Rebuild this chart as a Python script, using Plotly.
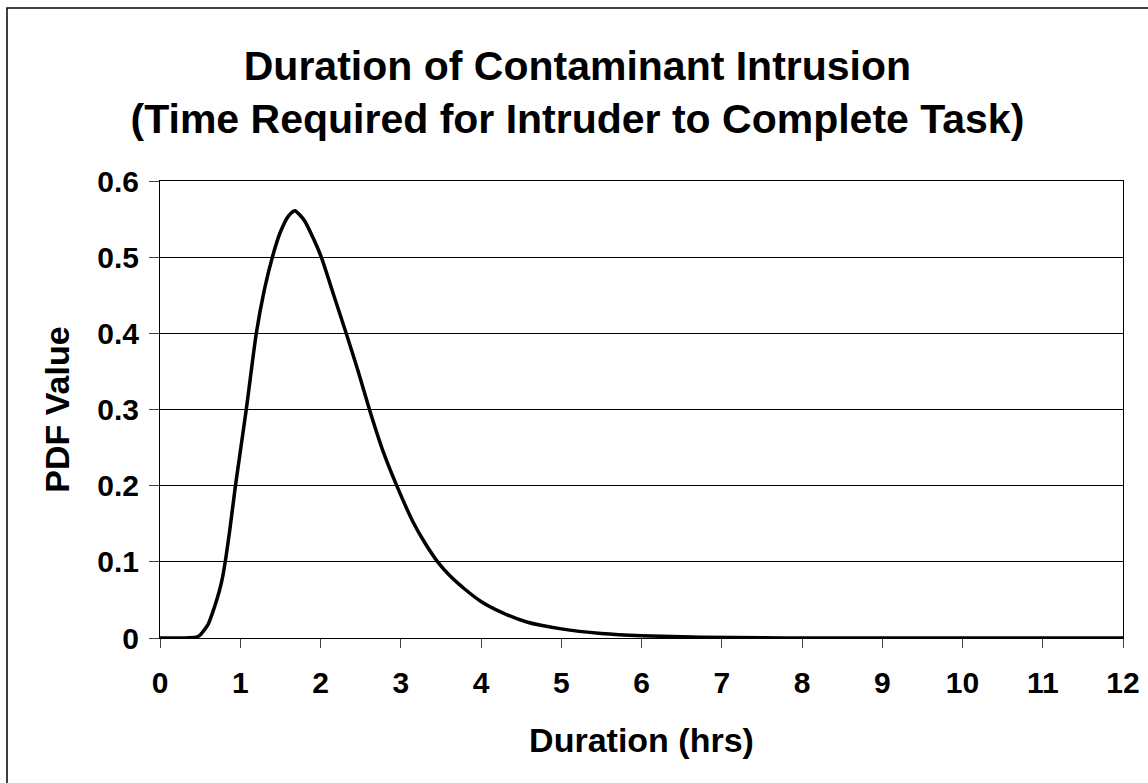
import plotly.graph_objects as go

# PDF curve
duration_hrs = [0, 0.3, 0.45, 0.5, 0.6, 0.68, 0.74, 0.78, 0.82, 0.87, 0.94, 1.075, 1.2, 1.3,
                1.4, 1.5, 1.6, 1.68, 1.8, 1.9, 2.01, 2.15, 2.32, 2.47, 2.61, 2.78,
                2.95, 3.15, 3.3, 3.46, 3.61, 3.8, 4.0, 4.25, 4.57, 5.0, 5.5, 6.0,
                6.75, 7.5, 8.0, 12.0]
pdf_value = [0, 0, 0.001, 0.004, 0.018, 0.041, 0.062, 0.080, 0.105, 0.142, 0.200, 0.300, 0.400, 0.457,
             0.500, 0.533, 0.554, 0.561, 0.548, 0.527, 0.500, 0.455, 0.400, 0.350, 0.300, 0.245,
             0.200, 0.153, 0.125, 0.100, 0.082, 0.064, 0.048, 0.034, 0.021, 0.012, 0.006, 0.003,
             0.001, 0.0003, 0, 0]

x_ticks = list(range(0, 13))
y_ticks = [0, 0.1, 0.2, 0.3, 0.4, 0.5, 0.6]
y_tick_labels = ["0", "0.1", "0.2", "0.3", "0.4", "0.5", "0.6"]

FONT = "Liberation Sans, Arial, sans-serif"

fig = go.Figure()
fig.add_trace(go.Scatter(
    x=duration_hrs, y=pdf_value,
    mode="lines",
    line=dict(color="black", width=3.5, shape="spline", smoothing=0.6),
    showlegend=False,
))

fig.update_layout(
    width=1148, height=783,
    margin=dict(l=160, r=25, t=181, b=145, autoexpand=False),
    paper_bgcolor="white", plot_bgcolor="white",
    font=dict(family=FONT, color="black"),
    title=dict(
        text="Duration of Contaminant Intrusion<br>(Time Required for Intruder to Complete Task)",
        font=dict(size=41, family=FONT, weight="bold", color="black"),
        x=0.503, xanchor="center", xref="container",
        y=0.898, yanchor="top", yref="container",
    ),
    xaxis=dict(
        range=[0, 12], tickvals=x_ticks,
        ticks="outside", ticklen=9, tickcolor="#444", tickwidth=1,
        ticklabelstandoff=9,
        showline=True, linecolor="black", linewidth=1, mirror=True,
        showgrid=False, zeroline=False, automargin=False,
        tickfont=dict(size=30, weight="bold"),
        title=dict(text="Duration (hrs)", font=dict(size=34, weight="bold"), standoff=30),
    ),
    yaxis=dict(
        range=[0, 0.6], tickvals=y_ticks, ticktext=y_tick_labels,
        ticks="outside", ticklen=10, tickcolor="#444", tickwidth=1,
        ticklabelstandoff=4,
        showline=True, linecolor="black", linewidth=1, mirror=True,
        showgrid=True, gridcolor="black", gridwidth=1, zeroline=False, automargin=False,
        tickfont=dict(size=30, weight="bold"),
        title=dict(text="PDF Value", font=dict(size=34, weight="bold"), standoff=17),
    ),
    shapes=[dict(
        type="rect", xref="paper", yref="paper",
        x0=(7 - 160) / 963, x1=(1170 - 160) / 963,
        y0=(638 - 800) / 457, y1=(638 - 8) / 457,
        line=dict(color="black", width=1.5), layer="below",
    )],
)

fig.write_html("out.html", config={"displayModeBar": False},
               post_script="document.body.style.margin='0';")
